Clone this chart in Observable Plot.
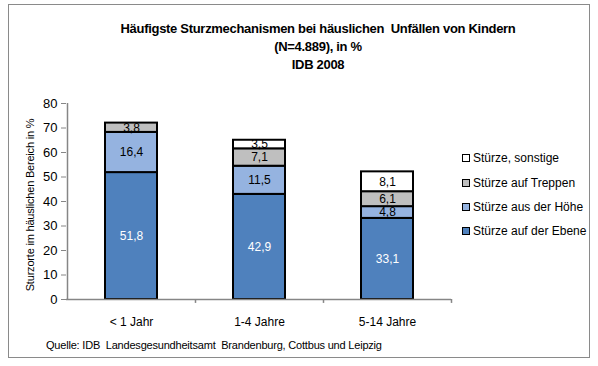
<!DOCTYPE html>
<html><head><meta charset="utf-8">
<script src="https://cdn.jsdelivr.net/npm/d3@7"></script>
<script src="https://cdn.jsdelivr.net/npm/@observablehq/plot@0.6"></script>
<style>
body{margin:0;background:#fff;}
#wrap{position:relative;width:598px;height:366px;overflow:hidden;}
#box{position:absolute;left:8px;top:4px;width:580px;height:352px;border:1.5px solid #8a8a8a;}
#chart{position:absolute;left:0;top:0;}
.t{position:absolute;white-space:nowrap;font-family:"Liberation Sans Narrow","Arial Narrow","Liberation Sans",sans-serif;color:#000;}
#title{left:18px;width:600px;top:20px;text-align:center;font-weight:bold;font-size:13px;letter-spacing:-0.3px;line-height:18px;}
#ylab{left:30px;top:205px;font-size:11px;letter-spacing:-0.2px;transform:translate(-50%,-50%) rotate(-90deg);}
#src{left:46px;top:339px;font-size:11px;letter-spacing:-0.2px;}
.leg{position:absolute;left:462px;font-family:"Liberation Sans",Arial,sans-serif;font-size:12px;white-space:nowrap;line-height:14px;}
.leg span{display:inline-block;width:6px;height:6px;border:1.5px solid #000;margin-right:3px;vertical-align:0px;}
</style></head>
<body><div id="wrap"><div id="box"></div><div id="chart"></div>
<div class="t" id="title">Häufigste Sturzmechanismen bei häuslichen&nbsp; Unfällen von Kindern<br>(N=4.889), in %<br>IDB 2008</div>
<div class="t" id="ylab">Sturzorte im häuslichen Bereich in %</div>
<div class="t" id="src">Quelle: IDB&nbsp; Landesgesundheitsamt&nbsp; Brandenburg, Cottbus und Leipzig</div>
<div id="legend"></div>
</div>
<script>
const categories = ["< 1 Jahr", "1-4 Jahre", "5-14 Jahre"];
const series = ["Stürze auf der Ebene", "Stürze aus der Höhe", "Stürze auf Treppen", "Stürze, sonstige"];
const colors = ["#4f81bd", "#95b3e0", "#bfbfbf", "#ffffff"];
const ebene = [51.8, 42.9, 33.1];
const hoehe = [16.4, 11.5, 4.8];
const treppen = [3.8, 7.1, 6.1];
const sonstige = [0, 3.5, 8.1];
const yTicks = [0, 10, 20, 30, 40, 50, 60, 70, 80];

const values = [ebene, hoehe, treppen, sonstige];
const data = [];
categories.forEach((c, i) => series.forEach((s, j) => {
  if (values[j][i] > 0) data.push({cat: c, series: s, value: values[j][i]});
}));
const fmt = v => v.toFixed(1).replace(".", ",");

const chart = Plot.plot({
  width: 598, height: 366,
  marginTop: 103, marginBottom: 67, marginLeft: 66, marginRight: 147,
  x: {domain: categories, paddingInner: 0.594, paddingOuter: 0.297, axis: null, label: null},
  y: {domain: [0, 80], axis: null, label: null},
  color: {domain: series, range: colors},
  style: {fontFamily: "Liberation Sans, Arial, sans-serif", background: "transparent"},
  marks: [
    Plot.barY(data, {x: "cat", y: "value", fill: "series", stroke: "#000", strokeWidth: 2}),
    Plot.text(data, Plot.stackY({x: "cat", y: "value", text: d => fmt(d.value),
      fill: d => d.series === series[0] ? "#fff" : "#000", fontSize: 12})),
    Plot.ruleY([0], {stroke: "#868686", strokeWidth: 1.5}),
    Plot.ruleX([categories[0]], {dx: -64, y1: 0, y2: 80, stroke: "#868686", strokeWidth: 1.5}),
    Plot.ruleX(categories, {dx: 64, y1: 0, y2: -1.6, stroke: "#868686", strokeWidth: 1.5}),
    Plot.axisY({ticks: yTicks, tickSize: 5, tickPadding: 4, stroke: "#868686", fontSize: 13, fill: "#000", label: null}),
    Plot.axisX({tickSize: 0, tickPadding: 18, fontSize: 12, fill: "#000", label: null})
  ]
});
document.getElementById("chart").appendChild(chart);

const legendEl = document.getElementById("legend");
const legTops = [151, 176, 200, 224];
[3, 2, 1, 0].forEach((j, k) => {
  const d = document.createElement("div");
  d.className = "leg";
  d.style.top = legTops[k] + "px";
  d.innerHTML = `<span style="background:${colors[j]}"></span>${series[j]}`;
  legendEl.appendChild(d);
});
</script></body></html>
